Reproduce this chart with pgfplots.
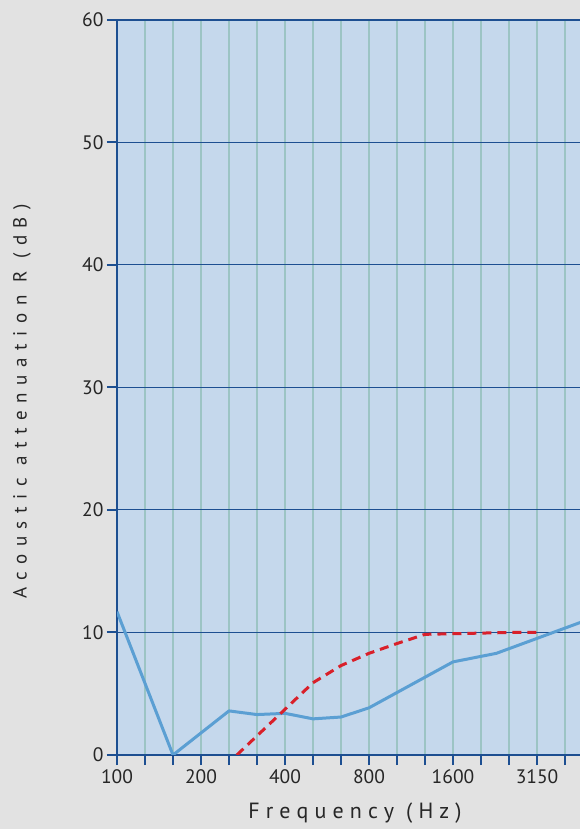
\documentclass[border=0pt]{standalone}
\usepackage{fontspec}
\setmainfont{PT Sans}
\usepackage{pgfplots}
\pgfplotsset{compat=1.18}
\definecolor{bg}{HTML}{E2E2E2}
\definecolor{plotbg}{HTML}{C5D8EC}
\definecolor{axisblue}{HTML}{1D4F91}
\definecolor{vgrid}{HTML}{9CC4C4}
\definecolor{lineblue}{HTML}{5B9FD3}
\definecolor{linered}{HTML}{D9202A}

\begin{document}
\begin{tikzpicture}[x=1pt,y=1pt]
\fill[bg] (0,0) rectangle (580,829);
\begin{scope}
\clip (0,0) rectangle (580,829);
\begin{axis}[
    at={(117pt,74pt)}, anchor=south west,
    scale only axis, width=476pt, height=735pt,
    xmin=0, xmax=17, ymin=0, ymax=60,
    axis background/.style={fill=plotbg},
    axis line style={line width=2pt, draw=axisblue},
    xtick={0,...,17},
    xticklabels={100,,,200,,,400,,,800,,,1600,,,3150,,},
    ytick={0,10,...,60},
    tick align=outside, major tick length=10pt,
    tick style={line width=2pt, draw=axisblue},
    xtick pos=bottom, ytick pos=left,
    grid=major,
    x grid style={line width=1.5pt, draw=vgrid},
    y grid style={line width=1pt, draw=axisblue},
    tick label style={font=\fontsize{19.5}{22}\selectfont, text=black!85},
    xticklabel style={yshift=-1pt},
    /pgf/number format/assume math mode=true,
    xlabel={\addfontfeatures{LetterSpace=28}Frequency (Hz)},
    ylabel={\addfontfeatures{LetterSpace=40}Acoustic attenuation R (dB)},
    every axis x label/.style={at={(rel axis cs:0.5,0)}, anchor=center, yshift=-58pt,
        font=\fontsize{22}{25}\selectfont, text=black!85},
    every axis y label/.style={at={(rel axis cs:0,0.5)}, rotate=90, anchor=center,
        yshift=95pt, xshift=-14pt, font=\fontsize{19}{22}\selectfont, text=black!85},
]
\addplot[lineblue, line width=3pt, line join=round] coordinates {
    (0,11.7) (2,0) (4,3.6) (5,3.3) (6,3.4) (7,2.95) (8,3.1) (9,3.85)
    (12,7.6) (13.55,8.3) (17,11.2)
};
\addplot[linered, line width=3pt, dash pattern=on 9pt off 6pt] coordinates {
    (4.28,0) (7,5.9) (8,7.3) (9,8.3) (10,9.1) (11,9.85) (12,9.9)
    (13,9.95) (14,10.0) (15,10.0)
};
\end{axis}
\end{scope}
\pgfresetboundingbox
\useasboundingbox (0,0) rectangle (580,829);
\end{tikzpicture}
\end{document}
